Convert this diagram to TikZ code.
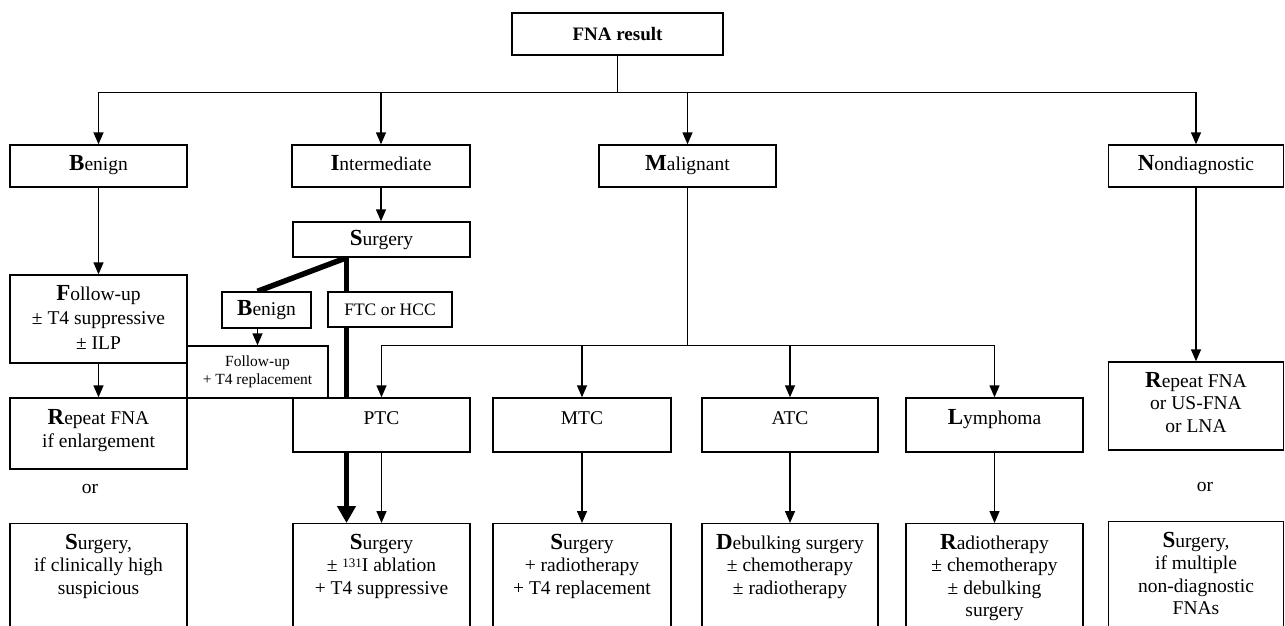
\documentclass[tikz,border=0pt]{standalone}
\usepackage{fontspec}
\setmainfont{Liberation Serif}
\usetikzlibrary{arrows.meta,calc,backgrounds}
\newcommand\fl[1]{{\fontsize{23}{22}\selectfont\bfseries #1}}
\begin{document}
\begin{tikzpicture}[x=1pt,y=-1pt,
  box/.style={draw,line width=1.4pt,fill=white,inner sep=0pt,align=center,font=\fontsize{19.5}{22.5}\selectfont},
  topbox/.style={box,minimum height=42pt,text height=15pt,text depth=7pt},
  midbox/.style={box,minimum height=54pt,text height=13pt,text depth=15pt},
  botbox/.style={box,minimum height=130pt,anchor=north},
  txt/.style={inner sep=0pt,align=center,font=\fontsize{19.5}{22.5}\selectfont},
  arr/.style={line width=1.4pt,-{Triangle[length=12pt,width=10pt]}},
  thk/.style={line width=5.5pt},
  ]
\useasboundingbox (0,0) rectangle (1285,625);
\clip (0,0) rectangle (1285,625);

% top
\node[box,minimum width=211pt,minimum height=42pt,font=\fontsize{19}{22}\selectfont\bfseries] (fna) at (617.5,34) {FNA result};
\node[topbox,minimum width=177pt] (ben) at (98.5,166) {\fl{B}enign};
\node[topbox,minimum width=178pt] (int) at (381,166) {\fl{I}ntermediate};
\node[topbox,minimum width=177pt] (mal) at (687.5,166) {\fl{M}alignant};
\node[topbox,minimum width=175.5pt] (nd) at (1196,166) {\fl{N}ondiagnostic};

% benign column
\node[box,minimum width=177pt,minimum height=88pt,font=\fontsize{19.5}{24.5}\selectfont] (fu) at (98.5,319) {\fl{F}ollow-up\\ ± T4 suppressive\\ ± ILP\rule[-4pt]{0pt}{4pt}};
\node[box,minimum width=177pt,minimum height=71pt] (rep1) at (98.5,433.5) {\fl{R}epeat FNA\\ if enlargement\rule[-9.6pt]{0pt}{9.6pt}};
\node[txt] (or1) at (90,488.5) {or};
\node[botbox,minimum width=177pt] (sb1) at (98.5,523) {};
\node[txt,anchor=north] (sb1t) at ($(sb1.north)+(0,11)$) {\fl{S}urgery,\\ if clinically high\\ suspicious};

% intermediate column
\node[box,minimum width=177pt,minimum height=35pt] (surg) at (381.5,239.5) {\fl{S}urgery};
\node[box,minimum width=89pt,minimum height=36pt] (bens) at (266.5,310) {\fl{B}enign};
\node[box,minimum width=124pt,minimum height=35pt,font=\fontsize{17.5}{20}\selectfont] (ftc) at (390,309.5) {FTC or HCC};
\node[box,minimum width=141pt,minimum height=52pt,font=\fontsize{15.5}{18}\selectfont] (t4r) at (257.5,372) {Follow-up\\ + T4 replacement};

% malignant row
\node[midbox,minimum width=177pt] (ptc) at (381.5,425) {PTC};
\node[midbox,minimum width=178pt] (mtc) at (582,425) {MTC};
\node[midbox,minimum width=176pt] (atc) at (790,425) {ATC};
\node[midbox,minimum width=177pt] (lym) at (994.5,425) {\fl{L}ymphoma};

\node[botbox,minimum width=177pt] (sptc) at (381.5,523) {};
\node[txt,anchor=north] (sptct) at ($(sptc.north)+(0,11)$) {\fl{S}urgery\\ ± {\fontsize{13}{13}\selectfont\raisebox{4pt}{131}}I ablation\\ + T4 suppressive};
\node[botbox,minimum width=178pt] (smtc) at (582,523) {};
\node[txt,anchor=north] (smtct) at ($(smtc.north)+(0,11)$) {\fl{S}urgery\\ + radiotherapy\\ + T4 replacement};
\node[botbox,minimum width=176pt] (satc) at (790,523) {};
\node[txt,anchor=north] (satct) at ($(satc.north)+(0,11)$) {\fl{D}ebulking surgery\\ ± chemotherapy\\ ± radiotherapy};
\node[botbox,minimum width=177pt] (slym) at (994.5,523) {};
\node[txt,anchor=north] (slymt) at ($(slym.north)+(0,11)$) {\fl{R}adiotherapy\\ ± chemotherapy\\ ± debulking\\ surgery};

% nondiagnostic column
\node[box,minimum width=175.5pt,minimum height=88pt] (rep2) at (1196,406) {\fl{R}epeat FNA\\ or US-FNA\\ or LNA\rule[-8pt]{0pt}{8pt}};
\node[txt] (or2) at (1205,487) {or};
\node[botbox,minimum width=175.5pt] (snd) at (1196,521) {};
\node[txt,anchor=north] (sndt) at ($(snd.north)+(0,11)$) {\fl{S}urgery,\\ if multiple\\ non-diagnostic\\ FNAs};

% connectors
\draw[arr] (fna.south) -- ++(0,37) -| (ben.north);
\draw[arr] (fna.south) -- ++(0,37) -| (int.north);
\draw[arr] (fna.south) -- ++(0,37) -| (mal.north);
\draw[arr] (fna.south) -- ++(0,37) -| (nd.north);

\draw[arr] (ben.south) -- (fu.north);
\draw[arr] (fu.south) -- (rep1.north);
\draw[arr] (int.south) -- (int.south |- surg.north);
\draw[arr] (bens.south -| t4r.north) -- (t4r.north);

\draw[arr] (mal.south) -- ++(0,158) -| (ptc.north);
\draw[arr] (mal.south) -- ++(0,158) -| (mtc.north);
\draw[arr] (mal.south) -- ++(0,158) -| (atc.north);
\draw[arr] (mal.south) -- ++(0,158) -| (lym.north);

\draw[arr] (ptc.south) -- (sptc.north);
\draw[arr] (mtc.south) -- (smtc.north);
\draw[arr] (atc.south) -- (satc.north);
\draw[arr] (lym.south) -- (slym.north);
\draw[arr] (nd.south) -- (rep2.north);

\begin{scope}[on background layer]
\draw[thk] ($(surg.south)+(-35,0)$) -- (bens.north -| t4r.north);
\draw[thk,-{Triangle[length=17pt,width=18pt]}] ($(surg.south)+(-35,0)$) -- ($(sptc.north)+(-35,0)$);
\end{scope}
\end{tikzpicture}
\end{document}
